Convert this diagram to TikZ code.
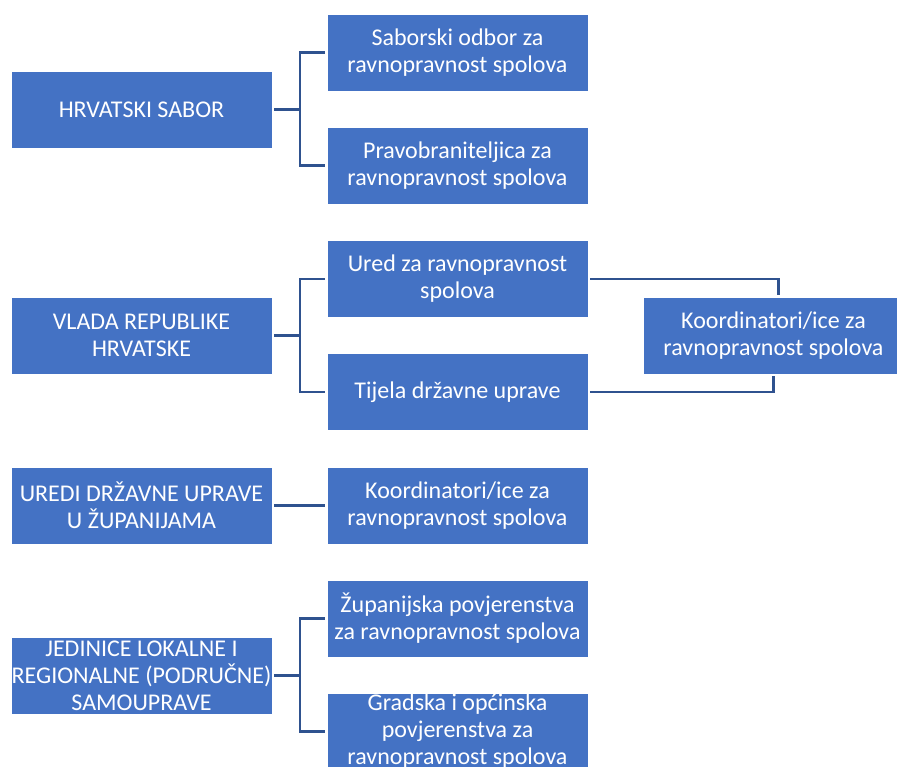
\documentclass[tikz,border=0pt]{standalone}
\usepackage{fontspec}
\setmainfont{Carlito}
\definecolor{boxblue}{HTML}{4472C4}
\definecolor{lineblue}{HTML}{2F528F}
\tikzset{
  box/.style={rectangle, fill=boxblue, draw=white, line width=0.8pt, text=white,
    minimum width=261pt, minimum height=77pt, inner sep=0pt, align=center,
    font=\fontsize{24}{27}\selectfont},
  conn/.style={draw=lineblue, line width=2.6pt, shorten <=2pt, shorten >=2pt}
}
\begin{document}
\begin{tikzpicture}[x=1pt, y=-1pt]
\useasboundingbox (0,0) rectangle (897,766);
\clip (0,0) rectangle (897,766);
\node[box] (hs) at (141.5, 109.5) {HRVATSKI SABOR};
\node[box] (sab) at (457.5, 52.5) {Saborski odbor za\\ravnopravnost spolova};
\node[box] (prav) at (457.5, 165.5) {Pravobraniteljica za\\ravnopravnost spolova};
\node[box] (vlada) at (141.5, 335.5) {VLADA REPUBLIKE\\HRVATSKE};
\node[box] (ured) at (457.5, 279) {Ured za ravnopravnost\\spolova};
\node[box] (tijela) at (457.5, 392) {Tijela državne uprave};
\node[box] (koord) at (773.5, 335.5) {Koordinatori/ice za\\ravnopravnost spolova};
\node[box] (uredi) at (141.5, 505.5) {UREDI DRŽAVNE UPRAVE\\U ŽUPANIJAMA};
\node[box] (koordz) at (457.5, 505.5) {Koordinatori/ice za\\ravnopravnost spolova};
\node[box] (jed) at (141.5, 675.5) {JEDINICE LOKALNE I\\REGIONALNE (PODRUČNE)\\SAMOUPRAVE};
\node[box] (zup) at (457.5, 618.5) {Županijska povjerenstva\\za ravnopravnost spolova};
\node[box] (grad) at (457.5, 731.5) {Gradska i općinska\\povjerenstva za\\ravnopravnost spolova};
\foreach \p/\c in {hs/sab, hs/prav, vlada/ured, vlada/tijela, jed/zup, jed/grad}
  \draw[conn] (\p.east) -- ++(27.5,0) |- (\c.west);
\draw[conn] (uredi) -- (koordz);
\draw[conn] (ured.east) -| ([xshift=5pt]koord.north);
\draw[conn] (tijela.east) -| (koord.south);
\end{tikzpicture}
\end{document}
